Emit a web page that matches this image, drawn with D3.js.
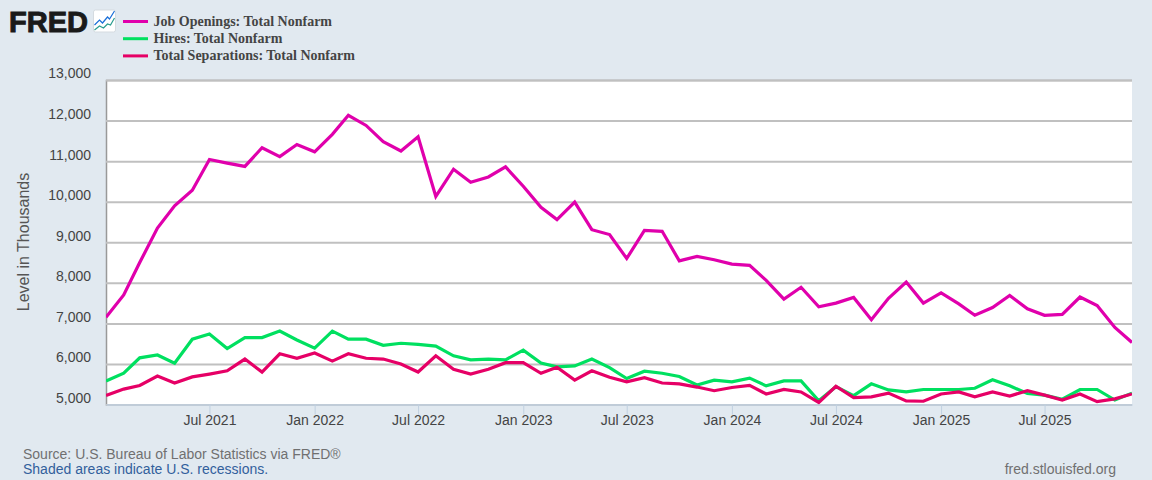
<!DOCTYPE html>
<html>
<head>
<meta charset="utf-8">
<script src="https://cdn.jsdelivr.net/npm/d3@7"></script>
<style>
  html, body { margin: 0; padding: 0; background: #e1e9f0; overflow: hidden; }
  text { font-family: "Liberation Sans", Arial, sans-serif; }
</style>
</head>
<body>
<div id="chart"></div>
<script>
const WIDTH = 1152
const HEIGHT = 480

const startMonth = "2021-01"
const jobOpenings = [7150, 7700, 8500, 9350, 9900, 10280, 11040, 10950, 10870, 11330, 11110, 11410,
  11230, 11660, 12130, 11880, 11480, 11250, 11600, 10130, 10800, 10480, 10610, 10860,
  10380, 9860, 9560, 9990, 9310, 9190, 8600, 9290, 9270, 8540, 8650, 8570,
  8460, 8430, 8060, 7600, 7890, 7410, 7500, 7640, 7090, 7620, 8020, 7500,
  7750, 7480, 7200, 7390, 7690, 7360, 7200, 7220, 7650, 7440, 6900, 6530]
const hires = [5580, 5770, 6150, 6220, 6020, 6610, 6740, 6380, 6650, 6650, 6810, 6590,
  6390, 6810, 6610, 6610, 6460, 6510, 6480, 6440, 6200, 6100, 6120, 6100,
  6340, 6020, 5930, 5950, 6120, 5910, 5640, 5820, 5770, 5690, 5480, 5600,
  5560, 5650, 5460, 5580, 5580, 5090, 5440, 5220, 5510, 5360, 5310, 5370,
  5370, 5370, 5400, 5610, 5460, 5270, 5230, 5130, 5370, 5370, 5110, 5280]
const separations = [5220, 5380, 5470, 5700, 5530, 5680, 5750, 5830, 6120, 5800, 6250, 6140,
  6270, 6070, 6250, 6140, 6120, 6000, 5800, 6200, 5870, 5750, 5870, 6030,
  6030, 5770, 5920, 5600, 5830, 5670, 5560, 5660, 5530, 5510, 5430, 5340,
  5420, 5470, 5260, 5370, 5310, 5050, 5450, 5170, 5190, 5280, 5090, 5080,
  5260, 5310, 5190, 5310, 5210, 5340, 5230, 5110, 5260, 5070, 5140, 5260]

const seriesNames = ["Job Openings: Total Nonfarm", "Hires: Total Nonfarm", "Total Separations: Total Nonfarm"]
const seriesColors = ["#e000ac", "#00e060", "#e60066"]
const yTicks = [5000, 6000, 7000, 8000, 9000, 10000, 11000, 12000, 13000]
const xTicks = ["2021-07", "2022-01", "2022-07", "2023-01", "2023-07", "2024-01", "2024-07", "2025-01", "2025-07"]

const parseMonth = d3.timeParse("%Y-%m")
const months = d3.range(jobOpenings.length).map(i => d3.timeMonth.offset(parseMonth(startMonth), i))

const plotLeft = 106, plotRight = 1132, plotTop = 80, plotBottom = 404.5

const x = d3.scaleTime().domain(d3.extent(months)).range([plotLeft, plotRight])
const y = d3.scaleLinear().domain([5000, 13000]).range([plotBottom, plotTop])

const svg = d3.select("#chart").append("svg")
  .attr("width", WIDTH)
  .attr("height", HEIGHT)
  .style("display", "block")

// plot background
svg.append("rect")
  .attr("x", plotLeft).attr("y", plotTop)
  .attr("width", plotRight - plotLeft).attr("height", plotBottom - plotTop)
  .attr("fill", "#fff")

// y axis with grid lines
const yAxis = svg.append("g")
  .attr("transform", `translate(${plotLeft},0)`)
  .call(d3.axisLeft(y).tickValues(yTicks).tickSize(-(plotRight - plotLeft)).tickPadding(15).tickFormat(d3.format(",")))
yAxis.select(".domain").attr("stroke", "#999").attr("stroke-width", 1.5)
yAxis.selectAll(".tick line").attr("stroke", "#c0c0c0").attr("stroke-width", 2)
yAxis.selectAll(".tick text")
  .attr("fill", "#444")
  .style("font-size", "14px")
  .style("font-family", '"Liberation Sans", Arial, sans-serif')
  .attr("dy", "-0.15em")

// x axis
const xAxis = svg.append("g")
  .attr("transform", `translate(0,${plotBottom})`)
  .call(d3.axisBottom(x).tickValues(xTicks.map(parseMonth)).tickSize(10).tickSizeOuter(0).tickPadding(1).tickFormat(d3.timeFormat("%b %Y")))
xAxis.select(".domain").attr("stroke", "#c0d0e0").attr("stroke-width", 1.5)
xAxis.selectAll(".tick line").attr("stroke", "#c0d0e0")
xAxis.selectAll(".tick text")
  .attr("fill", "#444")
  .style("font-size", "14px")
  .style("font-family", '"Liberation Sans", Arial, sans-serif')

// lines
const line = d3.line().x((d, i) => x(months[i])).y(d => y(d))
svg.append("clipPath").attr("id", "plot-clip").append("rect")
  .attr("x", plotLeft).attr("y", plotTop).attr("width", plotRight - plotLeft).attr("height", plotBottom - plotTop)

svg.selectAll(".series")
  .data([jobOpenings, hires, separations])
  .enter()
  .append("path")
  .attr("class", "series")
  .attr("clip-path", "url(#plot-clip)")
  .attr("d", line)
  .attr("fill", "none")
  .attr("stroke", (d, i) => seriesColors[i])
  .attr("stroke-width", 3.2)
  .attr("stroke-linejoin", "miter")

// y title
svg.append("text")
  .attr("transform", "translate(29,242) rotate(-90)")
  .attr("text-anchor", "middle")
  .attr("fill", "#555")
  .style("font-size", "16px")
  .text("Level in Thousands")

// legend
const legend = svg.selectAll(".legend")
  .data(seriesNames)
  .enter()
  .append("g")
  .attr("class", "legend")
  .attr("transform", (d, i) => `translate(123,${21.5 + i * 17.2})`)
legend.append("line")
  .attr("x1", 0).attr("x2", 25)
  .attr("stroke", (d, i) => seriesColors[i])
  .attr("stroke-width", 3)
legend.append("text")
  .attr("x", 30.5).attr("y", 4)
  .attr("fill", "#444")
  .style("font-family", '"Liberation Serif", serif')
  .style("font-weight", "bold")
  .style("font-size", "14px")
  .text(d => d)

// logo
svg.append("text")
  .attr("x", 9).attr("y", 32)
  .attr("fill", "#1a1a1a")
  .style("font-family", '"Liberation Sans", Arial, sans-serif')
  .style("font-weight", "bold")
  .style("font-size", "30px")
  .attr("textLength", 79)
  .attr("lengthAdjust", "spacingAndGlyphs")
  .attr("stroke", "#1a1a1a")
  .attr("stroke-width", 1)
  .text("FRED")

const icon = svg.append("g").attr("transform", "translate(93.5,10)")
icon.append("rect")
  .attr("width", 22).attr("height", 22).attr("rx", 2)
  .attr("fill", "#fff").attr("stroke", "#d5dbe0")
icon.append("path")
  .attr("d", "M1,15 L6,10 L9,13 L14,7 L16,9 L21,1")
  .attr("fill", "none").attr("stroke", "#1a6fd8").attr("stroke-width", 1.2)
icon.append("path")
  .attr("d", "M1,20 L6,16 L10,18 L14,14 L17,15 L21,8")
  .attr("fill", "none").attr("stroke", "#2a9d8f").attr("stroke-width", 1.2)

// footer
svg.append("text")
  .attr("x", 23).attr("y", 459)
  .attr("fill", "#707070")
  .style("font-size", "14px")
  .text("Source: U.S. Bureau of Labor Statistics via FRED®")
svg.append("text")
  .attr("x", 23).attr("y", 474)
  .attr("fill", "#32609c")
  .style("font-size", "14px")
  .text("Shaded areas indicate U.S. recessions.")
svg.append("text")
  .attr("x", 1116).attr("y", 474)
  .attr("text-anchor", "end")
  .attr("fill", "#707070")
  .style("font-size", "14px")
  .text("fred.stlouisfed.org")
</script>
</body>
</html>
